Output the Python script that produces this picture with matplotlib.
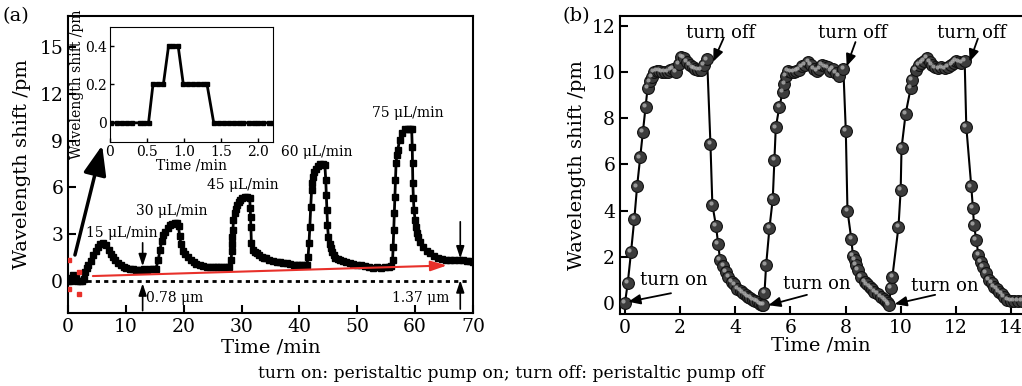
import matplotlib
matplotlib.use("Agg")
import matplotlib.pyplot as plt
from matplotlib import transforms

plt.rcParams['font.family'] = ['DejaVu Serif']
plt.rcParams['xtick.direction'] = 'in'
plt.rcParams['ytick.direction'] = 'in'

# ---- panel (a): wavelength shift vs time for each flow rate, (min, pm)
trace_base = [(0, 0), (0.3, 0), (0.6, 0.2), (0.85, 0.4), (1.1, 0.2), (1.3, 0.2),
              (1.6, 0), (2.0, 0), (2.4, 0), (2.7, 0.1)]
trace_15 = [(2.9, 0.6), (3.2, 0.85), (3.5, 1.0), (3.9, 1.3), (4.4, 1.65), (4.8, 1.95),
            (5.2, 2.2), (5.6, 2.35), (6.1, 2.42), (6.5, 2.3), (7.0, 2.0), (7.4, 1.75),
            (7.8, 1.55), (8.2, 1.35), (8.7, 1.17), (9.1, 1.02), (9.6, 0.92), (10.1, 0.83),
            (10.7, 0.77), (11.2, 0.75), (11.7, 0.72), (12.2, 0.72), (12.7, 0.74),
            (13.2, 0.78), (13.7, 0.74), (14.2, 0.75), (14.7, 0.76), (15.2, 0.8)]
trace_30 = [(15.6, 1.35), (15.9, 2.0), (16.2, 2.6), (16.5, 2.95), (16.8, 3.16), (17.2, 3.4),
            (17.6, 3.6), (18.0, 3.68), (18.5, 3.72), (18.8, 3.7), (19.1, 3.5), (19.3, 2.9),
            (19.5, 2.4), (19.9, 1.95), (20.3, 1.72), (20.8, 1.55), (21.2, 1.38), (21.7, 1.24),
            (22.2, 1.12), (22.8, 1.03), (23.4, 0.96), (24.0, 0.93), (24.5, 0.9), (25.0, 0.9),
            (25.5, 0.88), (26.0, 0.88), (26.5, 0.9), (27.0, 0.88), (27.5, 0.9), (27.9, 0.92)]
trace_45 = [(28.2, 1.35), (28.3, 1.9), (28.35, 2.4), (28.4, 2.85), (28.5, 3.27), (28.6, 3.9),
            (28.8, 4.34), (29.0, 4.65), (29.2, 4.87), (29.5, 5.08), (29.7, 5.2), (30.1, 5.32),
            (30.6, 5.4), (31.0, 5.38), (31.4, 5.3), (31.5, 4.66), (31.55, 4.1), (31.6, 3.48),
            (31.7, 2.42), (32.0, 2.0), (32.3, 1.88), (32.6, 1.78), (33.0, 1.66), (33.5, 1.56),
            (33.9, 1.5), (34.3, 1.45), (34.8, 1.38), (35.4, 1.3), (36.1, 1.24), (36.7, 1.2),
            (37.2, 1.16), (37.8, 1.13), (38.4, 1.1), (39.0, 1.06), (39.5, 1.03), (40.0, 1.03),
            (40.5, 1.02), (41.0, 1.03), (41.3, 1.05)]
trace_60 = [(41.5, 1.56), (41.65, 2.42), (41.8, 3.48), (41.95, 4.76), (42.1, 5.83), (42.25, 6.3),
            (42.4, 6.69), (42.6, 7.0), (42.9, 7.2), (43.2, 7.4), (43.6, 7.5), (44.0, 7.5),
            (44.4, 7.43), (44.55, 6.47), (44.65, 5.5), (44.75, 4.55), (44.85, 3.6), (45.0, 2.84),
            (45.2, 2.4), (45.4, 2.1), (45.6, 1.85), (45.9, 1.65), (46.2, 1.5), (46.6, 1.4),
            (47.0, 1.32), (47.5, 1.26), (48.0, 1.2), (48.7, 1.13), (49.3, 1.1), (50.0, 1.05),
            (50.6, 1.0), (51.3, 0.95), (52.0, 0.92), (52.7, 0.85), (53.4, 0.9), (54.1, 0.85),
            (54.8, 0.9), (55.4, 0.88), (55.9, 0.95)]
trace_75 = [(56.1, 1.35), (56.2, 2.2), (56.3, 3.27), (56.4, 4.36), (56.5, 5.4), (56.6, 6.47),
            (56.7, 7.54), (56.85, 8.1), (57.0, 8.4), (57.3, 9.04), (57.7, 9.47), (58.2, 9.72),
            (58.7, 9.75), (59.1, 9.75), (59.4, 9.72), (59.5, 8.6), (59.55, 7.54), (59.6, 6.26),
            (59.7, 5.3), (59.8, 4.55), (60.0, 3.9), (60.1, 3.48), (60.3, 3.1), (60.5, 2.84),
            (60.9, 2.5), (61.4, 2.2), (62.0, 1.95), (62.6, 1.78), (63.3, 1.6), (64.0, 1.48),
            (64.7, 1.42), (65.4, 1.38), (66.1, 1.36), (66.8, 1.35), (67.5, 1.35), (68.2, 1.37),
            (68.9, 1.3), (69.5, 1.27), (70.0, 1.25)]
flow_labels = ['15 μL/min', '30 μL/min', '45 μL/min', '60 μL/min', '75 μL/min']
drift_labels = ['0.78 μm', '1.37 μm']

# inset: first 2.2 min
inset_t = [0.02, 0.09, 0.16, 0.23, 0.3, 0.4, 0.46, 0.52, 0.58, 0.65, 0.72, 0.79, 0.85, 0.92,
           0.99, 1.05, 1.12, 1.19, 1.25, 1.31, 1.4, 1.47, 1.54, 1.6, 1.67, 1.74, 1.8, 1.87,
           1.94, 2.0, 2.07, 2.14, 2.2]
inset_shift = [0, 0, 0, 0, 0, 0, 0, 0, 0.2, 0.2, 0.2, 0.4, 0.4, 0.4,
               0.2, 0.2, 0.2, 0.2, 0.2, 0.2, 0, 0, 0, 0, 0, 0, 0, 0,
               0, 0, 0, 0, 0]

# ---- panel (b): three on/off cycles, (min, pm)
cycle_1 = [(0.0, 0.0), (0.1, 0.85), (0.22, 2.2), (0.34, 3.65), (0.44, 5.05), (0.55, 6.3),
           (0.65, 7.4), (0.75, 8.5), (0.82, 9.3), (0.9, 9.6), (0.97, 9.8), (1.05, 10.0),
           (1.15, 10.05), (1.25, 10.05), (1.35, 10.0), (1.45, 10.0), (1.55, 10.0), (1.65, 10.1),
           (1.75, 10.15), (1.85, 10.0), (1.95, 10.35), (2.05, 10.65), (2.15, 10.6), (2.25, 10.45),
           (2.35, 10.3), (2.45, 10.2), (2.55, 10.15), (2.65, 10.1), (2.75, 10.1), (2.85, 10.3),
           (2.98, 10.55), (3.1, 6.9), (3.17, 4.25), (3.3, 3.35), (3.38, 2.55), (3.45, 1.86),
           (3.57, 1.6), (3.67, 1.35), (3.75, 1.11), (3.87, 0.92), (3.97, 0.8), (4.08, 0.62),
           (4.2, 0.52), (4.29, 0.42), (4.38, 0.34), (4.46, 0.27), (4.55, 0.2), (4.64, 0.14),
           (4.73, 0.08), (4.82, 0.03), (4.9, -0.04), (4.97, -0.08)]
cycle_2 = [(5.02, -0.1), (5.06, 0.43), (5.12, 1.64), (5.24, 3.24), (5.36, 4.5), (5.42, 6.2),
           (5.47, 7.6), (5.6, 8.5), (5.72, 9.15), (5.78, 9.5), (5.85, 9.85), (5.92, 10.05),
           (6.02, 10.0), (6.12, 10.0), (6.22, 10.05), (6.32, 10.1), (6.42, 10.25), (6.52, 10.3),
           (6.65, 10.45), (6.75, 10.3), (6.85, 10.15), (6.95, 10.05), (7.05, 10.15), (7.15, 10.3),
           (7.25, 10.25), (7.35, 10.2), (7.45, 10.05), (7.55, 10.15), (7.65, 9.95), (7.75, 9.85),
           (7.92, 10.15), (8.01, 7.45), (8.07, 4.0), (8.21, 2.76), (8.27, 2.03), (8.33, 1.86),
           (8.39, 1.64), (8.45, 1.43), (8.57, 1.14), (8.69, 0.92), (8.78, 0.8), (8.87, 0.7),
           (8.96, 0.6), (9.05, 0.49), (9.17, 0.38), (9.29, 0.27), (9.38, 0.18), (9.46, 0.1),
           (9.53, 0.0), (9.58, -0.09)]
cycle_3 = [(9.64, 0.64), (9.7, 1.14), (9.92, 3.3), (10.0, 4.9), (10.03, 6.7), (10.18, 8.2),
           (10.36, 9.3), (10.42, 9.65), (10.54, 10.1), (10.65, 10.3), (10.75, 10.4), (10.85, 10.5),
           (10.95, 10.6), (11.05, 10.45), (11.13, 10.3), (11.25, 10.2), (11.37, 10.16),
           (11.48, 10.2), (11.6, 10.16), (11.72, 10.22), (11.84, 10.3), (11.92, 10.4),
           (12.0, 10.5), (12.1, 10.45), (12.2, 10.4), (12.32, 10.5), (12.38, 7.63), (12.56, 5.05),
           (12.62, 4.1), (12.66, 3.38), (12.74, 2.73), (12.82, 2.08), (12.92, 1.79), (12.97, 1.57),
           (13.1, 1.29), (13.21, 1.0), (13.3, 0.85), (13.39, 0.71), (13.48, 0.6), (13.57, 0.49),
           (13.66, 0.38), (13.75, 0.27), (13.87, 0.13), (14.0, 0.1), (14.12, 0.08), (14.25, 0.08),
           (14.4, 0.08)]
event_labels = ['turn on', 'turn off']

fig = plt.figure(figsize=(10.22, 3.86), dpi=100)

# ================= panel (a)
ax1 = fig.add_axes([68 / 1022, 1 - 313 / 386, 405 / 1022, 297 / 386])
trace_a = trace_base + trace_15 + trace_30 + trace_45 + trace_60 + trace_75
ta = [p[0] for p in trace_a]
va = [p[1] for p in trace_a]
ax1.plot(ta, va, color='k', lw=2, marker='s', ms=4, zorder=3)
ax1.axhline(0, xmin=3.2 / 70, xmax=69.3 / 70, color='k', lw=2, ls=(0, (1.5, 1.5)), zorder=2)
ax1.set_xlim(0, 70)
ax1.set_ylim(-2.05, 17.0)
ax1.set_xticks(range(0, 71, 10))
ax1.set_yticks(range(0, 16, 3))
ax1.tick_params(labelsize=13.5, width=1.5, length=6)
for s in ax1.spines.values():
    s.set_linewidth(1.5)
ax1.set_xlabel('Time /min', fontsize=14, labelpad=2)
ax1.set_ylabel('Wavelength shift /pm', fontsize=14, labelpad=6)

for lab, (x, y) in zip(flow_labels, [(9.3, 3.1), (18.0, 4.5), (30.3, 6.15), (43.0, 8.3), (58.8, 10.8)]):
    ax1.text(x, y, lab, fontsize=10, ha='center', va='center')

# red drift arrow
ax1.annotate('', xy=(65.5, 1.0), xytext=(4.3, 0.32),
             arrowprops=dict(arrowstyle='-|>,head_length=0.7,head_width=0.22', color='#e8302a',
                             lw=1.5, mutation_scale=14, shrinkA=0, shrinkB=0), zorder=4)
# arrow to inset
ax1.annotate('', xy=(5.9, 8.7), xytext=(1.2, 1.67),
             arrowprops=dict(arrowstyle='-|>,head_length=0.9,head_width=0.35', color='k',
                             lw=2.5, mutation_scale=20, shrinkA=0, shrinkB=0), zorder=4)
# red corner marks of the zoomed region
ax1.plot([0.2, 1.95, 0.2, 1.9], [1.35, 0.6, -0.53, -0.83], ls='none', marker='s', ms=3,
         color='#e8302a', zorder=4)

small = dict(arrowstyle='-|>,head_length=0.6,head_width=0.2', color='k', lw=1.2,
             mutation_scale=12, shrinkA=0, shrinkB=0)
ax1.annotate('', xy=(12.9, 0.95), xytext=(12.9, 2.45), arrowprops=small)
ax1.annotate('', xy=(12.9, -0.15), xytext=(12.9, -1.9), arrowprops=small)
ax1.annotate('', xy=(67.8, 1.45), xytext=(67.8, 3.8), arrowprops=small)
ax1.annotate('', xy=(67.8, 0.05), xytext=(67.8, -1.8), arrowprops=small)
ax1.text(13.4, -1.1, drift_labels[0], fontsize=10, ha='left', va='center')
ax1.text(65.9, -1.1, drift_labels[1], fontsize=10, ha='right', va='center')

# inset
axin = fig.add_axes([110 / 1022, 1 - 142 / 386, 163 / 1022, 115 / 386])
axin.plot(inset_t, inset_shift, color='k', lw=2, marker='s', ms=3.5)
axin.set_xlim(0, 2.2)
axin.set_ylim(-0.1, 0.5)
axin.set_xticks([0, 0.5, 1.0, 1.5, 2.0])
axin.set_xticklabels(['0', '0.5', '1.0', '1.5', '2.0'])
axin.set_yticks([0, 0.2, 0.4])
axin.set_yticklabels(['0', '0.2', '0.4'])
axin.tick_params(labelsize=10, width=1, length=3, pad=2)
axin.set_xlabel('Time /min', fontsize=10, labelpad=0)
axin.set_ylabel('Wavelength shift /pm', fontsize=10, labelpad=1)

# ================= panel (b)
ax2 = fig.add_axes([620 / 1022, 1 - 314 / 386, 402 / 1022, 298 / 386])
trace_b = cycle_1 + cycle_2 + cycle_3
tb = [p[0] for p in trace_b]
vb = [p[1] for p in trace_b]
ax2.plot(tb, vb, color='k', lw=1.5, zorder=2)
ax2.plot(tb, vb, ls='none', marker='o', ms=8.5, mfc='#3c3c3c', mec='#111111', mew=0.8, zorder=3)
shine = transforms.offset_copy(ax2.transData, fig=fig, x=-1.3, y=1.3, units='points')
ax2.plot(tb, vb, ls='none', marker='o', ms=3, mfc='#b0b0b0', mec='none', alpha=0.8,
         transform=shine, zorder=4)
ax2.set_xlim(-0.18, 14.4)
ax2.set_ylim(-0.48, 12.43)
ax2.set_xticks(range(0, 15, 2))
ax2.set_yticks(range(0, 13, 2))
ax2.spines['right'].set_visible(False)
for s in ax2.spines.values():
    s.set_linewidth(1.5)
ax2.tick_params(labelsize=13.5, width=1.5, length=6)
ax2.set_xlabel('Time /min', fontsize=14, labelpad=0)
ax2.set_ylabel('Wavelength shift /pm', fontsize=14, labelpad=4)

ev = dict(arrowstyle='-|>,head_length=0.6,head_width=0.25', color='k', lw=1.3,
          mutation_scale=12, shrinkA=0, shrinkB=0)
# turn on
for (tx, ty), tail, tip in [((0.55, 1.0), (1.67, 0.42), (0.12, 0.05)),
                            ((5.72, 0.8), (6.6, 0.35), (5.2, -0.1)),
                            ((10.36, 0.75), (11.25, 0.35), (9.78, -0.05))]:
    ax2.text(tx, ty, event_labels[0], fontsize=13, ha='left', va='center', zorder=5)
    ax2.annotate('', xy=tip, xytext=tail, arrowprops=ev, zorder=5)
# turn off
for (tx, ty), tail, tip in [((3.46, 11.7), (3.57, 11.45), (3.2, 10.45)),
                            ((8.27, 11.7), (8.36, 11.3), (8.04, 10.25)),
                            ((12.56, 11.7), (12.8, 11.45), (12.5, 10.45))]:
    ax2.text(tx, ty, event_labels[1], fontsize=13, ha='center', va='center', zorder=5)
    ax2.annotate('', xy=tip, xytext=tail, arrowprops=ev, zorder=5)

fig.text(3 / 1022, 1 - 16 / 386, '(a)', fontsize=14, ha='left', va='center')
fig.text(576 / 1022, 1 - 16 / 386, '(b)', fontsize=14, ha='center', va='center')
fig.text(511 / 1022, 1 - 374 / 386,
         'turn on: peristaltic pump on; turn off: peristaltic pump off',
         fontsize=12.3, ha='center', va='center')

fig.savefig('out.png', dpi=100)
